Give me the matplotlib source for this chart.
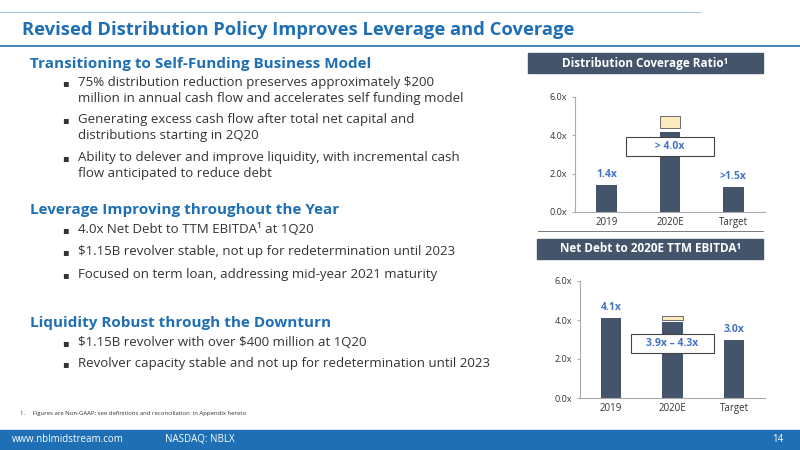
import matplotlib
matplotlib.use("Agg")
import matplotlib.pyplot as plt
from matplotlib.patches import Rectangle

plt.rcParams['font.family'] = ['Open Sans', 'DejaVu Sans']
plt.rcParams['text.parse_math'] = False

cats = ["2019", "2020E", "Target"]
cov_vals = [1.4, 4.2, 1.3]
cov_upper = [0, 0.8, 0]
cov_labels = ["1.4x", "", ">1.5x"]
debt_vals = [4.1, 3.9, 3.0]
debt_upper = [0, 0.3, 0]
debt_labels = ["4.1x", "", "3.0x"]
yticks = [0, 2, 4, 6]

NAVY = "#44546a"; BLUE = "#1f6fb5"; LBLUE = "#4472c4"; CREAM = "#fdebc0"

fig = plt.figure(figsize=(8, 4.5), dpi=100)
fig.patch.set_facecolor("white")

def px(x, y):
    return x / 800, 1 - y / 450

fig.add_artist(plt.Line2D([0, 0.875], [1 - 12/450]*2, color="#9dc3e6", lw=0.8))
fig.text(*px(22, 30), "Revised Distribution Policy Improves Leverage and Coverage",
         color=BLUE, fontsize=13.2, fontweight="bold", va="center")
fig.add_artist(plt.Line2D([0, 1], [1 - 46/450]*2, color=BLUE, lw=1.2))

fig.add_artist(Rectangle((0, 0), 1, 20/450, color="#1f6fb5", transform=fig.transFigure))
fig.text(*px(12, 440), "www.nblmidstream.com", color="white", fontsize=7, va="center")
fig.text(*px(165, 440), "NASDAQ: NBLX", color="white", fontsize=7, va="center")
fig.text(*px(783, 440), "14", color="white", fontsize=7, va="center", ha="right")
fig.text(*px(20, 413), "1.     Figures are Non-GAAP; see definitions and reconciliation  in Appendix hereto",
         fontsize=4.3, color="#333333", va="center")

def heading(y, s):
    fig.text(*px(30, y), s, color=BLUE, fontsize=11, fontweight="bold", va="center")
def bullet(y, lines):
    fig.text(*px(62, y + 1), "▪", fontsize=7, color="#333333", va="top")
    fig.text(*px(78, y - 1), "\n".join(lines), fontsize=9.5, color="#333333", va="top", linespacing=1.3)

heading(64, "Transitioning to Self-Funding Business Model")
bullet(77, ["75% distribution reduction preserves approximately $200",
            "million in annual cash flow and accelerates self funding model"])
bullet(114, ["Generating excess cash flow after total net capital and",
             "distributions starting in 2Q20"])
bullet(152, ["Ability to delever and improve liquidity, with incremental cash",
             "flow anticipated to reduce debt"])
heading(210, "Leverage Improving throughout the Year")
bullet(224, ["4.0x Net Debt to TTM EBITDA¹ at 1Q20"])
bullet(246, ["$1.15B revolver stable, not up for redetermination until 2023"])
bullet(269, ["Focused on term loan, addressing mid-year 2021 maturity"])
heading(323, "Liquidity Robust through the Downturn")
bullet(337, ["$1.15B revolver with over $400 million at 1Q20"])
bullet(358, ["Revolver capacity stable and not up for redetermination until 2023"])

def title_box(x0, y0, x1, y1, s):
    l, b = px(x0, y1)
    fig.add_artist(Rectangle((l, b), (x1 - x0)/800, (y1 - y0)/450, color=NAVY, transform=fig.transFigure))
    fig.text(*px((x0 + x1)/2, (y0 + y1)/2), s, color="white", fontsize=8.5, fontweight="bold",
             ha="center", va="center")

def chart(rect, vals, upper, labels, gap, box_text, box_y):
    ax = fig.add_axes(rect)
    x = range(len(cats))
    ax.bar(x, vals, width=0.33, color=NAVY)
    ax.bar([1], [upper[1] - gap], bottom=[vals[1] + gap], width=0.33, color=CREAM,
           edgecolor="#555555", linewidth=0.6)
    for i, (v, lab) in enumerate(zip(vals, labels)):
        if lab:
            ax.text(i, v + 0.25, lab, ha="center", va="bottom", color=LBLUE, fontsize=7.5, fontweight="bold")
    ax.text(1, box_y, box_text, ha="center", va="center", color=LBLUE, fontsize=7.5, fontweight="bold",
            bbox=dict(boxstyle="square,pad=0.4", fc="white", ec="#444444", lw=0.8))
    ax.set_ylim(0, 6)
    ax.set_xlim(-0.5, 2.5)
    ax.set_yticks(yticks)
    ax.set_yticklabels([f"{t:.1f}x" for t in yticks], fontsize=6.5, color="#333333")
    ax.set_xticks(list(x))
    ax.set_xticklabels(cats, fontsize=7, color="#333333")
    for s in ["top", "right"]:
        ax.spines[s].set_visible(False)
    ax.spines["left"].set_color("#aaaaaa")
    ax.spines["bottom"].set_color("#aaaaaa")
    ax.tick_params(axis="x", length=0)
    ax.tick_params(axis="y", length=2, color="#aaaaaa")
    return ax

title_box(528, 53, 763, 73, "Distribution Coverage Ratio¹")
chart([575/800, 1 - 212/450, 190/800, 115/450], cov_vals, cov_upper, cov_labels, 0.2,
      "         > 4.0x         ", 3.4)
fig.add_artist(plt.Line2D([538/800, 763/800], [1 - 239/450 + 0.018]*2, color="#666666", lw=0.6))
title_box(537, 239, 763, 259, "Net Debt to 2020E TTM EBITDA¹")
chart([580/800, 1 - 398/450, 185/800, 117/450], debt_vals, debt_upper, debt_labels, 0.08,
      "    3.9x – 4.3x    ", 2.8)

fig.savefig("out.png", dpi=100)
